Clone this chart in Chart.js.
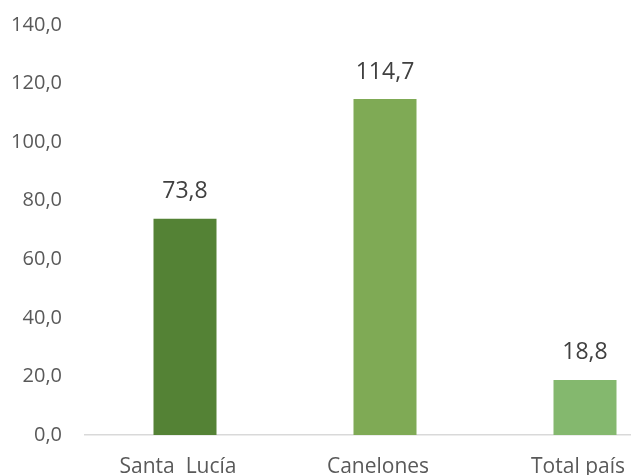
<!DOCTYPE html>
<html>
<head>
<meta charset="utf-8">
<script src="https://cdn.jsdelivr.net/npm/chart.js@4/dist/chart.umd.min.js"></script>
<style>
  html, body { margin: 0; padding: 0; background: #fff; overflow: hidden; }
  #wrap { position: relative; width: 700px; height: 475px; }
</style>
</head>
<body>
<div id="wrap"><canvas id="c"></canvas></div>
<script>
const categories = ["Santa  Lucía", "Canelones", "Total país"];
const values = [73.8, 114.7, 18.8];
const barColors = ["#548235", "#7FAA55", "#84B86E"];
const yTickMin = 0;
const yTickMax = 140;
const yTickStep = 20;

const fmt = v => v.toFixed(1).replace('.', ',');
const FONT = "'Open Sans', 'Noto Sans', sans-serif";
const TEXT = "#595959";

const dataLabels = {
  id: 'dataLabels',
  afterDatasetsDraw(chart) {
    const ctx = chart.ctx;
    const meta = chart.getDatasetMeta(0);
    ctx.save();
    ctx.font = "23px " + FONT;
    ctx.fillStyle = "#404040";
    ctx.textAlign = "center";
    ctx.textBaseline = "middle";
    meta.data.forEach((bar, i) => {
      ctx.fillText(fmt(values[i]), bar.x, bar.y - 27);
    });
    ctx.restore();
  }
};

new Chart(document.getElementById('c'), {
  type: 'bar',
  data: {
    labels: categories,
    datasets: [{
      data: values,
      backgroundColor: barColors,
      categoryPercentage: 1,
      barPercentage: 0.315
    }]
  },
  options: {
    responsive: true,
    maintainAspectRatio: false,
    animation: false,
    layout: { padding: { top: 25, right: 15, left: 0, bottom: 0 } },
    plugins: { legend: { display: false }, tooltip: { enabled: false } },
    scales: {
      y: {
        min: yTickMin, max: yTickMax,
        afterFit(s) { s.width = 85; s.paddingTop = 0; s.paddingBottom = 0; },
        ticks: { stepSize: yTickStep, callback: v => fmt(v), color: TEXT, font: { family: FONT, size: 20 }, padding: 23 },
        grid: { display: false, drawTicks: false },
        border: { display: false }
      },
      x: {
        afterFit(s) { s.height = 40; s.paddingLeft = 0; s.paddingRight = 0; },
        ticks: { color: TEXT, font: { family: FONT, size: 21 }, padding: 19, labelOffset: -7, maxRotation: 0, autoSkip: false },
        grid: { display: false, drawTicks: false },
        border: { display: true, color: "#D9D9D9", width: 1.5 }
      }
    }
  },
  plugins: [dataLabels]
});
</script>
</body>
</html>
